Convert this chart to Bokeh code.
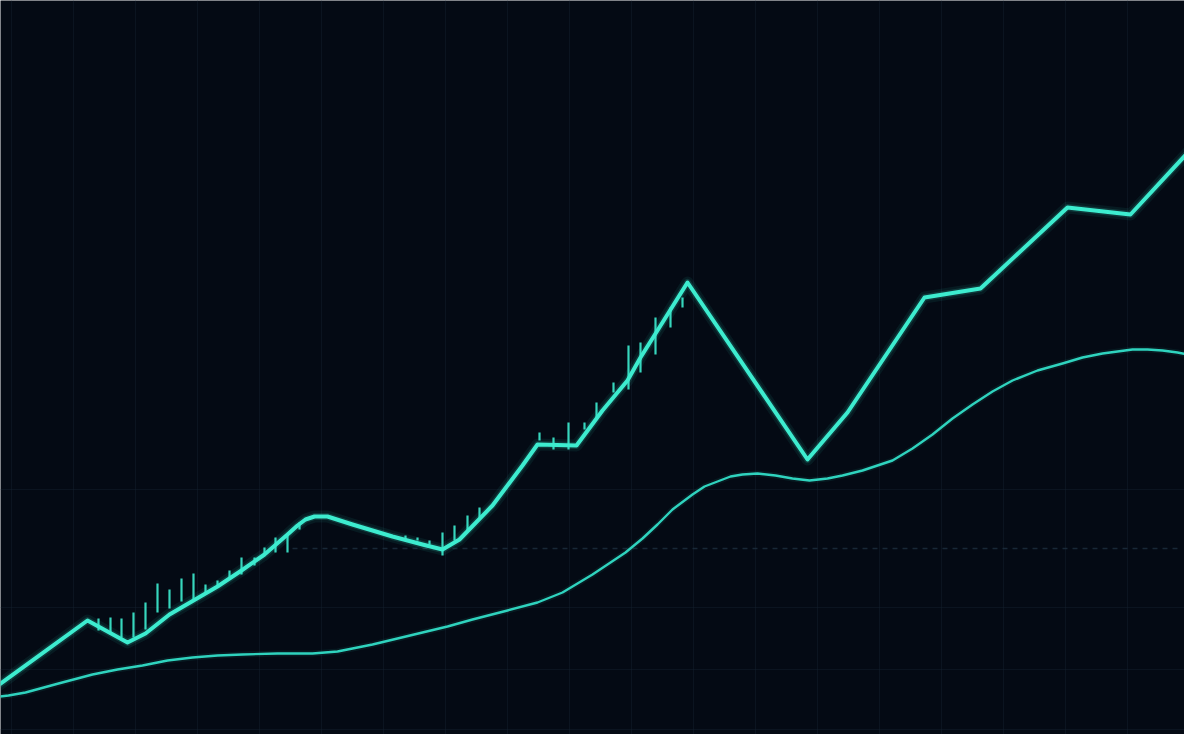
from bokeh.plotting import figure
from bokeh.models import Range1d, FixedTicker
from bokeh.embed import file_html
from bokeh.resources import INLINE

# ---- data ----
price_x = [0.0, 9.5, 13.5, 15.3, 17.7, 20.1, 22.5, 24.9, 27.2, 29.5, 30.5, 31.3, 32.2,
           33.5, 36.0, 40.0, 43.0, 45.0, 46.7, 50.0, 53.0, 54.5, 58.4, 61.0, 63.5,
           64.8, 67.0, 69.5, 81.5, 85.5, 93.2, 98.8, 107.5, 113.8, 120.0]
price_y = [10.6, 24.4, 20.0, 21.8, 25.6, 28.4, 31.2, 34.4, 37.6, 41.6, 43.4, 44.6, 45.2,
           45.2, 43.6, 41.2, 39.6, 38.6, 40.6, 47.4, 55.4, 59.6, 59.4, 66.4, 72.4,
           77.0, 84.0, 92.0, 56.6, 66.0, 89.0, 90.8, 107.0, 105.6, 119.0]

avg_x = [0.0, 1.6, 3.3, 6.6, 10.0, 12.5, 15.0, 17.5, 20.0, 22.5, 25.0, 28.5, 32.0,
         34.5, 36.0, 38.0, 40.5, 43.0, 45.5, 48.0, 51.5, 54.5, 57.0, 59.0, 60.0,
         61.5, 63.3, 65.0, 66.5, 68.0, 70.0, 71.2, 72.5, 73.8, 75.0, 76.5, 78.3,
         80.0, 81.7, 83.5, 85.0, 87.0, 90.0, 92.0, 94.0, 96.0, 98.0, 100.0, 102.0,
         104.5, 107.0, 109.0, 111.0, 114.0, 115.5, 117.0, 118.5, 120.0]
avg_y = [9.0, 9.4, 10.0, 11.8, 13.6, 14.6, 15.4, 16.4, 17.0, 17.4, 17.6, 17.8, 17.8,
         18.2, 18.8, 19.6, 20.8, 22.0, 23.2, 24.6, 26.4, 28.0, 30.0, 32.4, 33.6,
         35.6, 38.0, 40.8, 43.6, 46.6, 49.6, 51.2, 52.2, 53.2, 53.6, 53.8, 53.4,
         52.8, 52.4, 52.8, 53.4, 54.4, 56.4, 58.8, 61.6, 64.8, 67.6, 70.2, 72.4,
         74.4, 75.8, 77.0, 77.8, 78.6, 78.6, 78.4, 78.0, 77.4]

wick_x = [10.6, 11.8, 12.9, 14.1, 15.3, 16.5, 17.7, 18.9, 20.1, 21.3, 22.5, 23.7, 24.9,
          26.2, 27.2, 28.3, 29.5, 30.7, 41.3, 42.5, 43.7, 45.0, 46.2, 47.5, 48.7,
          54.7, 56.1, 57.6, 59.2, 60.4, 62.1, 63.6, 64.8, 66.3, 67.8, 69.0]
wick_high = [24.8, 25.0, 24.8, 26.0, 28.0, 31.8, 30.6, 32.8, 33.8, 31.6, 32.4, 34.4, 37.0,
             37.0, 39.0, 41.0, 41.6, 44.0, 41.4, 41.0, 40.4, 42.0, 43.4, 45.4, 47.0,
             62.0, 61.0, 64.0, 64.0, 68.0, 72.0, 79.4, 80.0, 85.0, 87.0, 89.0]
wick_low = [22.4, 21.6, 21.0, 21.0, 22.6, 26.0, 26.8, 28.2, 28.2, 29.6, 31.4, 33.0, 33.6,
            35.4, 37.4, 38.0, 38.0, 42.6, 40.6, 40.4, 39.6, 37.4, 40.4, 42.4, 45.0,
            60.4, 58.6, 58.6, 62.6, 65.0, 70.0, 70.6, 74.0, 77.6, 83.0, 87.0]

grid_x = [1.9, 8.1, 14.3, 20.5, 26.7, 32.9, 39.1, 45.3, 51.5, 57.7, 63.9, 70.1, 76.3,
          82.5, 88.7, 94.9, 101.1, 107.3, 113.5, 119.7]
grid_y = [2.6, 14.6, 27.0, 50.6]
ref_level = 38.8
ref_start, ref_end = 30.0, 119.0

# ---- styles ----
BG = "#040a14"
MAIN = "#3deccf"
THIN = "#2fd3be"

p = figure(width=1184, height=734, output_backend="svg", toolbar_location=None,
           x_range=Range1d(0.8, 119.2), y_range=Range1d(1.6, 148.4),
           min_border=0, background_fill_color=BG, border_fill_color=BG)
p.outline_line_color = None
p.xaxis.visible = False
p.yaxis.visible = False

p.xgrid.ticker = FixedTicker(ticks=grid_x)
p.ygrid.ticker = FixedTicker(ticks=grid_y)
for g in (p.xgrid, p.ygrid):
    g.grid_line_color = "#13212f"
    g.grid_line_alpha = 0.45
    g.grid_line_width = 1

# dashed reference level
p.segment(x0=[ref_start], y0=[ref_level], x1=[ref_end], y1=[ref_level],
          line_color="#1e3040", line_width=1.5, line_dash="5 5", line_alpha=0.8)

# moving average (thin)
p.line(avg_x, avg_y, line_color=THIN, line_width=6, line_alpha=0.08, line_join="round")
p.line(avg_x, avg_y, line_color=THIN, line_width=2.4, line_join="round", line_cap="round")

# wicks
p.segment(x0=wick_x, y0=wick_low, x1=wick_x, y1=wick_high,
          line_color=MAIN, line_width=2.2, line_alpha=0.9)

# main price line with glow
p.line(price_x, price_y, line_color=MAIN, line_width=12, line_alpha=0.07, line_join="round")
p.line(price_x, price_y, line_color=MAIN, line_width=7, line_alpha=0.15, line_join="round")
p.line(price_x, price_y, line_color=MAIN, line_width=4, line_join="round", line_cap="round")

open("out.html", "w").write(file_html(p, INLINE))
